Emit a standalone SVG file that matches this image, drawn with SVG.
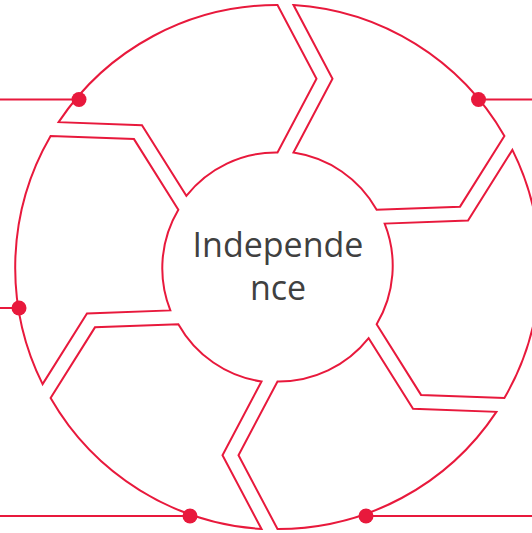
<svg xmlns="http://www.w3.org/2000/svg" width="532" height="533" viewBox="0 0 532 533">
<style>
.seg{fill:#ffffff;stroke:#E8193C;stroke-width:2;stroke-linejoin:miter}
.lead{stroke:#E8193C;stroke-width:2;fill:none}
.dot{fill:#E8193C}
.lbl{font-family:"Open Sans","Liberation Sans",sans-serif;font-size:34px;fill:#404040;text-anchor:middle}
</style>
<rect width="532" height="533" fill="#ffffff"/>
<g id="segment-top-left">
<path class="seg" d="M58.6,122.14 A262,262 0 0 1 277.5,5 L316.5,78.75 L277.5,152.5 A114.5,114.5 0 0 0 186.34,195.89 L141.97,125.24 Z"/>
</g>
<g id="segment-top-right">
<path class="seg" d="M293.5,5 A262,262 0 0 1 504.4,136 L460.03,206.65 L376.66,209.75 A114.5,114.5 0 0 0 293.5,152.5 L332.5,78.75 Z"/>
</g>
<g id="segment-right">
<path class="seg" d="M512.4,149.86 A262,262 0 0 1 504.4,398 L421.03,394.9 L376.66,324.25 A114.5,114.5 0 0 0 384.66,223.61 L468.03,220.51 Z"/>
</g>
<g id="segment-bottom-right">
<path class="seg" d="M496.4,411.86 A262,262 0 0 1 277.5,529 L238.5,455.25 L277.5,381.5 A114.5,114.5 0 0 0 368.66,338.11 L413.03,408.76 Z"/>
</g>
<g id="segment-bottom-left">
<path class="seg" d="M261.5,529 A262,262 0 0 1 50.6,398 L94.97,327.35 L178.34,324.25 A114.5,114.5 0 0 0 261.5,381.5 L222.5,455.25 Z"/>
</g>
<g id="segment-left">
<path class="seg" d="M42.6,384.14 A262,262 0 0 1 50.6,136 L133.97,139.1 L178.34,209.75 A114.5,114.5 0 0 0 170.34,310.39 L86.97,313.49 Z"/>
</g>
<g id="center">
<text class="lbl" x="278" y="257">Independe</text>
<text class="lbl" x="278" y="300">nce</text>
</g>
<g id="connectors">
<line class="lead" x1="0" y1="99.5" x2="79" y2="99.5"/>
<line class="lead" x1="478.5" y1="99.5" x2="532" y2="99.5"/>
<line class="lead" x1="0" y1="308" x2="19" y2="308"/>
<line class="lead" x1="0" y1="516" x2="190" y2="516"/>
<line class="lead" x1="366" y1="516" x2="532" y2="516"/>
<circle class="dot" cx="79" cy="99.5" r="7.5"/>
<circle class="dot" cx="478.5" cy="99.5" r="7.5"/>
<circle class="dot" cx="19" cy="308" r="7.5"/>
<circle class="dot" cx="190" cy="516" r="7.5"/>
<circle class="dot" cx="366" cy="516" r="7.5"/>
</g>
</svg>
